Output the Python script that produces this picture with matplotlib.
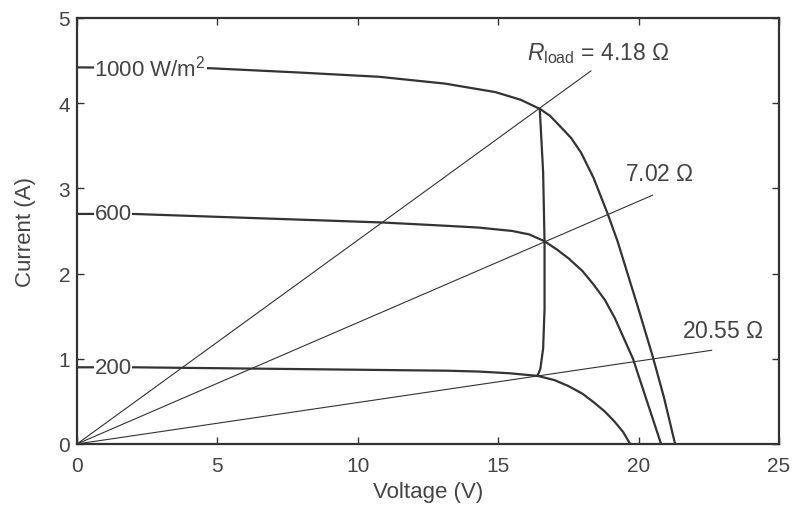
import matplotlib
matplotlib.use("Agg")
import matplotlib.pyplot as plt
import numpy as np

# ---- data ----
# I-V curve, 1000 W/m2
v_1000 = [0, 4.75, 7.9, 10.75, 13.1, 14.9, 15.8, 16.5, 16.85, 17.2, 17.6, 17.95, 18.4, 18.9, 19.25, 19.55, 20.0, 20.5, 20.9, 21.3]
i_1000 = [4.42, 4.41, 4.36, 4.31, 4.23, 4.13, 4.04, 3.93, 3.85, 3.73, 3.59, 3.42, 3.12, 2.70, 2.38, 2.06, 1.58, 1.03, 0.55, 0.0]
# I-V curve, 600 W/m2
v_600 = [0, 2.0, 10.85, 13.2, 14.3, 15.5, 16.1, 16.65, 17.1, 17.5, 18.0, 18.4, 18.8, 19.15, 19.8, 20.3, 20.8]
i_600 = [2.70, 2.70, 2.60, 2.56, 2.54, 2.50, 2.46, 2.38, 2.28, 2.18, 2.03, 1.87, 1.69, 1.48, 1.00, 0.50, 0.0]
# I-V curve, 200 W/m2
v_200 = [0, 2.0, 13.2, 14.3, 15.4, 16.05, 16.4, 17.0, 17.5, 18.0, 18.4, 18.8, 19.15, 19.45, 19.7]
i_200 = [0.90, 0.90, 0.86, 0.85, 0.83, 0.81, 0.80, 0.75, 0.68, 0.59, 0.49, 0.38, 0.26, 0.14, 0.0]
# maximum power point locus
v_mpp = [16.48, 16.6, 16.65, 16.65, 16.65, 16.6, 16.5, 16.4]
i_mpp = [3.93, 3.19, 2.38, 2.17, 1.58, 1.12, 0.88, 0.80]
# load lines
load_r = [4.18, 7.02, 20.55]
load_v_end = [18.3, 20.5, 22.6]
load_labels = [r"$R_{\mathrm{load}}$ = 4.18 $\Omega$", r"7.02 $\Omega$", r"20.55 $\Omega$"]
irr_labels = ["1000 W/m$^2$", "600", "200"]

plt.rcParams['font.family'] = ['Liberation Sans', 'DejaVu Sans']
plt.rcParams['mathtext.fontset'] = 'custom'
plt.rcParams['mathtext.rm'] = 'Liberation Sans'
plt.rcParams['mathtext.it'] = 'Liberation Sans:italic'

ink = "#333333"
txt = "#444444"

fig = plt.figure(figsize=(7.92, 5.06), dpi=100)
ax = fig.add_axes([0.0972, 0.1206, 0.8864, 0.8419])

# load lines
for r, ve in zip(load_r, load_v_end):
    vv = np.array([0, ve])
    ax.plot(vv, vv / r, color=ink, lw=0.8)

# I-V curves
for vv, ii in [(v_1000, i_1000), (v_600, i_600), (v_200, i_200)]:
    ax.plot(vv, ii, color=ink, lw=1.6, solid_joinstyle="round")
ax.plot(v_mpp, i_mpp, color=ink, lw=1.6, solid_joinstyle="round")

# irradiance labels over the curves
for lab, y0 in zip(irr_labels, [i_1000[0], i_600[0], i_200[0]]):
    ax.text(0.62, y0, lab, fontsize=16, color=txt, va="center", ha="left",
            bbox=dict(facecolor="white", edgecolor="none", pad=0.5))

# load labels
ax.text(18.55, 4.60, load_labels[0], fontsize=16.5, color=txt, ha="center", va="center")
ax.text(20.75, 3.18, load_labels[1], fontsize=16.5, color=txt, ha="center", va="center")
ax.text(23.0, 1.33, load_labels[2], fontsize=16.5, color=txt, ha="center", va="center")

ax.set_xlim(0, 25)
ax.set_ylim(0, 5)
ax.set_xticks([0, 5, 10, 15, 20, 25])
ax.set_yticks([0, 1, 2, 3, 4, 5])
ax.tick_params(direction="in", top=True, right=True, length=5, width=1, color=ink,
               labelsize=15, labelcolor=txt)
ax.tick_params(axis="x", pad=9)
ax.tick_params(axis="y", pad=5)
for s in ax.spines.values():
    s.set_color(ink)
    s.set_linewidth(1.6)

ax.set_xlabel("Voltage (V)", fontsize=16, color=txt, labelpad=4)
ax.set_ylabel("Current (A)", fontsize=16, color=txt, labelpad=16)

fig.savefig("out.png", dpi=100)
